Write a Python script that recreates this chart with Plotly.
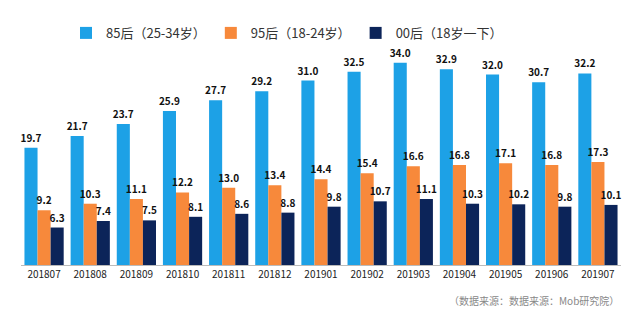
import plotly.graph_objects as go

categories = ["201807", "201808", "201809", "201810", "201811", "201812",
              "201901", "201902", "201903", "201904", "201905", "201906", "201907"]
s85 = [19.7, 21.7, 23.7, 25.9, 27.7, 29.2, 31.0, 32.5, 34.0, 32.9, 32.0, 30.7, 32.2]
s95 = [9.2, 10.3, 11.1, 12.2, 13.0, 13.4, 14.4, 15.4, 16.6, 16.8, 17.1, 16.8, 17.3]
s00 = [6.3, 7.4, 7.5, 8.1, 8.6, 8.8, 9.8, 10.7, 11.1, 10.3, 10.2, 9.8, 10.1]
names = ["85后（25-34岁）", "95后（18-24岁）", "00后（18岁一下）"]
colors = ["#1DA1E6", "#F7893B", "#0C2459"]

font_family = "Noto Sans CJK SC, Noto Sans, sans-serif"
fig = go.Figure()
for vals, name, col in zip([s85, s95, s00], names, colors):
    fig.add_trace(go.Bar(
        x=categories, y=vals, name=name, marker_color=col, marker_line_width=0,
        text=[f"{v:.1f}" for v in vals], textposition="outside",
        textfont=dict(size=10, color="#111111", family=font_family),
        cliponaxis=False,
    ))

fig.update_layout(
    width=640, height=325,
    margin=dict(l=21, r=19, t=27, b=60),
    barmode="group", bargap=0.15, bargroupgap=0,
    plot_bgcolor="white", paper_bgcolor="white",
    font=dict(family=font_family, color="#333333"),
    uniformtext=dict(minsize=9, mode="show"),
    legend=dict(orientation="h", x=0.075, xanchor="left", y=0.975, yanchor="middle",
                font=dict(size=13, color="#333333"), itemwidth=30,
                traceorder="normal", itemsizing="constant"),
    xaxis=dict(type="category", showline=True, linecolor="#BBBBBB", linewidth=1,
               ticks="", tickfont=dict(size=10, color="#222222")),
    yaxis=dict(range=[0, 40], visible=False, showgrid=False),
    annotations=[dict(text="（数据来源：数据来源：Mob研究院）", xref="paper", yref="paper",
                      x=1.0, y=-0.151, xanchor="right", yanchor="middle", showarrow=False,
                      font=dict(size=10, color="#888888"))],
)
fig.update_traces(texttemplate="<b>%{text}</b>")
fig.write_html("out.html")
